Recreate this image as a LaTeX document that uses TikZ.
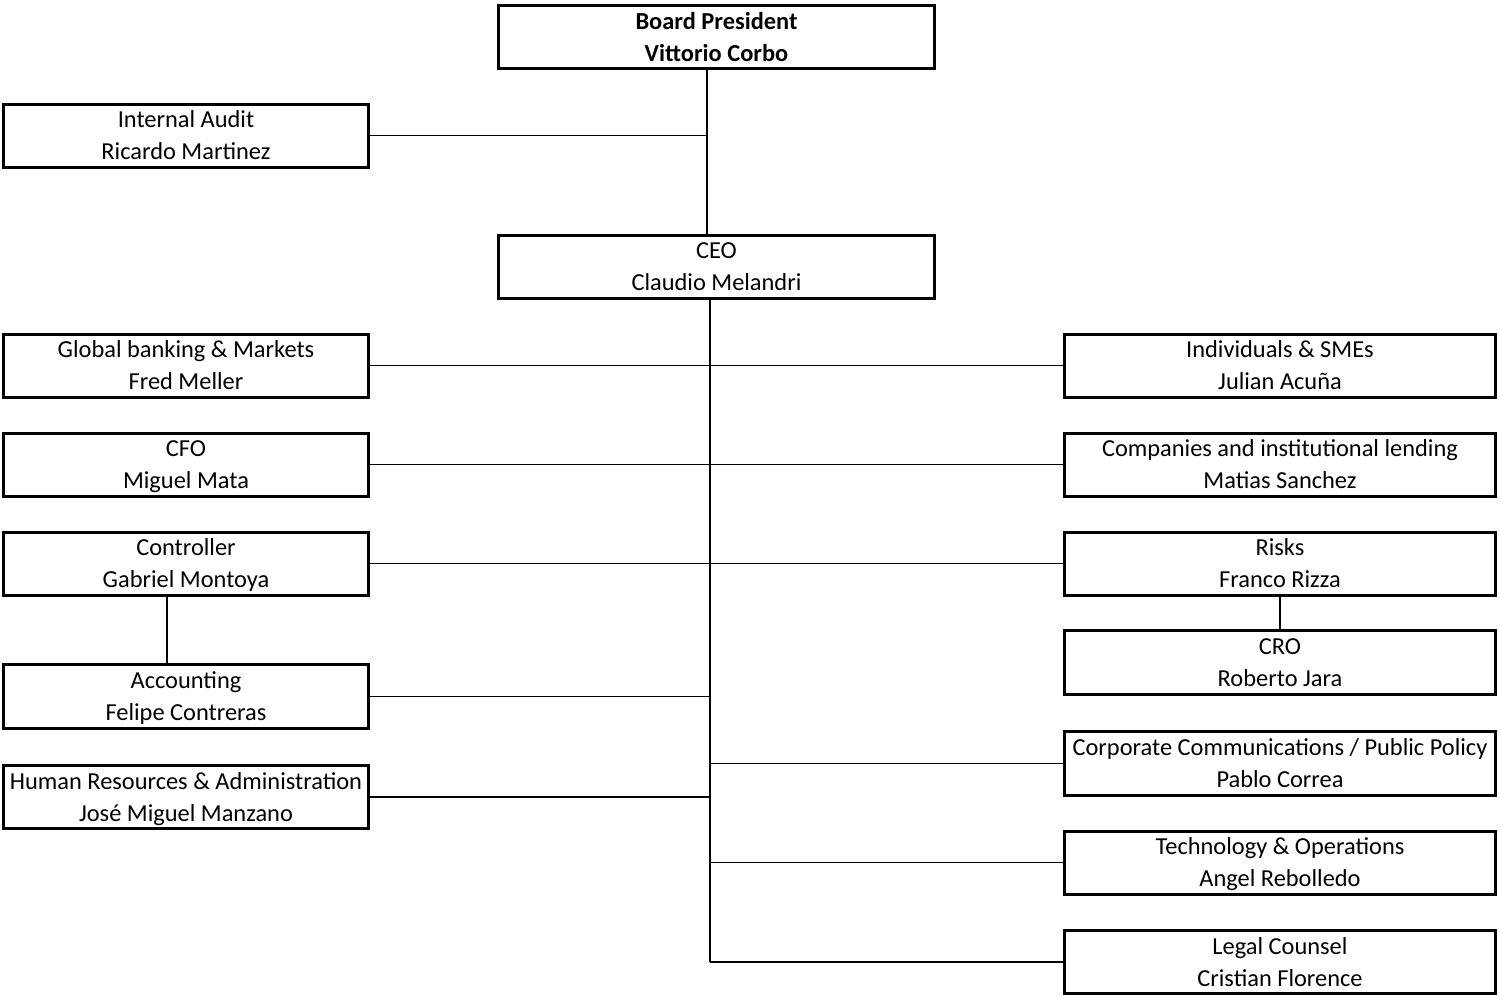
\documentclass[tikz,border=0pt]{standalone}
\usepackage{fontspec}
\setmainfont{Carlito}
\begin{document}
\begin{tikzpicture}[x=1pt,y=-1pt,
  orgbox/.style={draw=black, line width=3pt, fill=white, inner sep=0pt,
    align=center, font=\fontsize{24.4}{32}\selectfont, text depth=0pt},
  wide/.style={orgbox, minimum width=436pt, minimum height=63pt},
  leftbox/.style={orgbox, minimum width=365pt, minimum height=63pt},
  rightbox/.style={orgbox, minimum width=431pt, minimum height=63pt},
  link/.style={line width=1.6pt}]
\useasboundingbox (0,0) rectangle (1500,997);
% spines
\coordinate (s1) at (707,0);
\coordinate (s2) at (710,0);
\coordinate (s3) at (167,0);
\coordinate (s4) at (1280,0);
% nodes
\node[wide] (board) at (716.5,37) {\textbf{Board President}\\\textbf{Vittorio Corbo}};
\node[leftbox] (ia) at (186,135.5) {Internal Audit\\Ricardo Martinez};
\node[wide] (ceo) at (716.5,267) {CEO\\Claudio Melandri};
\node[leftbox] (gbm) at (186,365.5) {Global banking \& Markets\\Fred Meller};
\node[leftbox] (cfo) at (186,464.5) {CFO\\Miguel Mata};
\node[leftbox] (ctrl) at (186,563.5) {Controller\\Gabriel Montoya};
\node[leftbox, minimum height=64pt] (acc) at (186,696.5) {Accounting\\Felipe Contreras};
\node[leftbox] (hr) at (186,797) {Human Resources \& Administration\\José Miguel Manzano};
\node[rightbox] (ind) at (1280,365.5) {Individuals \& SMEs\\Julian Acuña};
\node[rightbox] (comp) at (1280,464.5) {Companies and institutional lending\\Matias Sanchez};
\node[rightbox] (risk) at (1280,563.5) {Risks\\Franco Rizza};
\node[rightbox, minimum height=64pt] (cro) at (1280,662.5) {CRO\\Roberto Jara};
\node[rightbox, minimum height=64pt] (corp) at (1280,763.5) {Corporate Communications / Public Policy\\Pablo Correa};
\node[rightbox] (tech) at (1280,862.5) {Technology \& Operations\\Angel Rebolledo};
\node[rightbox] (legal) at (1280,962) {Legal Counsel\\Cristian Florence};
% connectors
\draw[link] (board.south -| s1) -- (ceo.north -| s1);
\draw[link] (ia.east) -- (ia.east -| s1);
\draw[link] (ceo.south -| s2) -- (legal.west -| s2);
\foreach \n in {gbm,cfo,ctrl,acc,hr}{\draw[link] (\n.east) -- (\n.east -| s2);}
\foreach \n in {ind,comp,risk,corp,tech,legal}{\draw[link] (\n.west) -- (\n.west -| s2);}
\draw[link] (ctrl.south -| s3) -- (acc.north -| s3);
\draw[link] (risk.south -| s4) -- (cro.north -| s4);
\end{tikzpicture}
\end{document}
